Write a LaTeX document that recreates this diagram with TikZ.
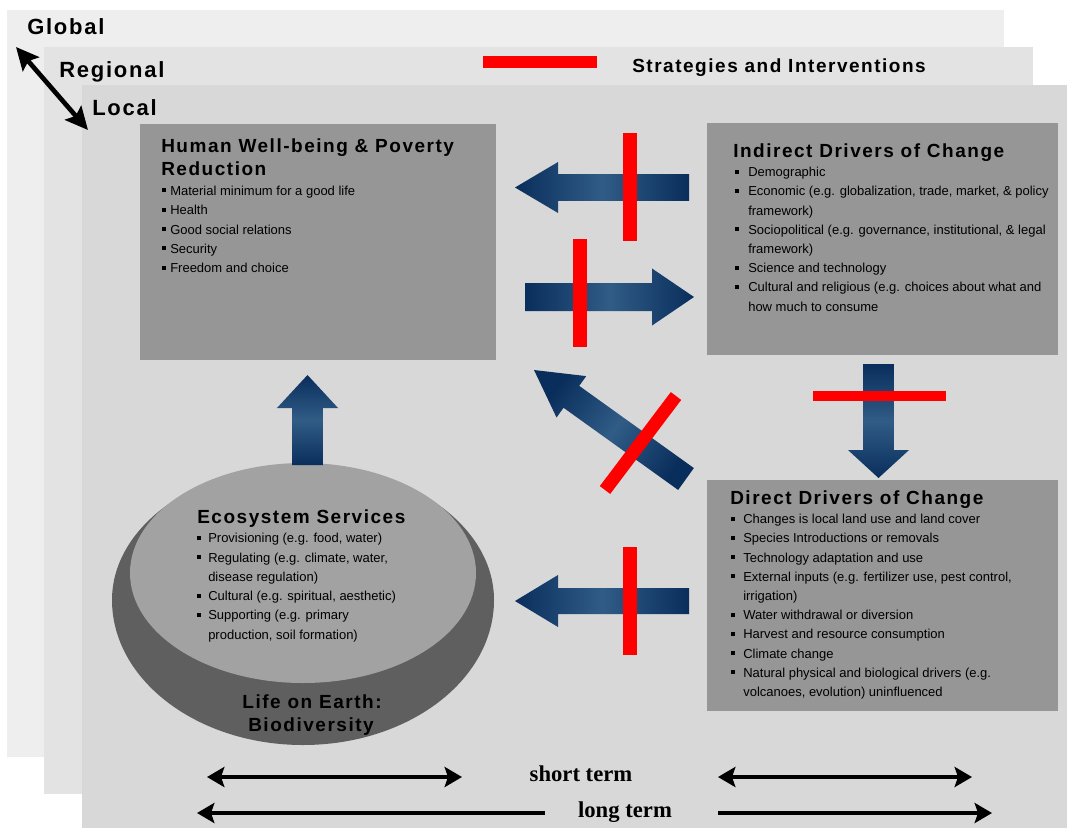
\documentclass[tikz,border=0pt]{standalone}
\usepackage{fontspec}
\setmainfont{Liberation Sans}
\newfontfamily\ttl[LetterSpace=8]{Liberation Sans}
\newfontfamily\tmsr{Liberation Serif}
\usetikzlibrary{calc,arrows.meta}
\definecolor{glob}{HTML}{EEEEEE}
\definecolor{regi}{HTML}{E3E3E3}
\definecolor{loca}{HTML}{D8D8D8}
\definecolor{boxg}{HTML}{969696}
\definecolor{elltop}{HTML}{A2A2A2}
\definecolor{ellside}{HTML}{5F5F5F}
\definecolor{adk}{HTML}{0A2E5C}
\definecolor{alt}{HTML}{305C86}
\definecolor{redbar}{HTML}{FF0000}
\tikzset{
  bt/.style={font=\fontsize{9.75}{12}\selectfont, inner sep=0pt, anchor=base west, text=black},
  ttlnode/.style={font=\ttl\bfseries\fontsize{14.25}{17}\selectfont, inner sep=0pt, anchor=base west},
  lvl/.style={font=\ttl\bfseries\fontsize{16.5}{19}\selectfont, inner sep=0pt, anchor=base west},
  bsq/.style={fill=black, minimum size=3pt, inner sep=0pt},
  redx/.style={draw=redbar, line width=10.5pt},
  arrowshade/.style={left color=adk, right color=adk, middle color=alt},
  termboth/.style={line width=3pt, {Stealth[length=13pt,width=15pt,inset=2.5pt]}-{Stealth[length=13pt,width=15pt,inset=2.5pt]}},
  termone/.style={line width=3pt, -{Stealth[length=13pt,width=15pt,inset=2.5pt]}},
  termtxt/.style={font=\tmsr\bfseries\fontsize{17}{20}\selectfont, inner sep=0pt, anchor=base},
}
% block arrow: #1 tail, #2 tip, #3 half shaft, #4 half head, #5 head length, #6 shading angle
\newcommand\barrow[6]{%
  \coordinate (bat) at (#1);
  \coordinate (bap) at (#2);
  \coordinate (bab) at ($(bap)!#5!(bat)$);
  \path[arrowshade, shading angle=#6]
    ($(bat)!#3!90:(bap)$) -- ($(bat)!#3!-90:(bap)$) -- ($(bab)!#3!-90:(bap)$)
    -- ($(bab)!#4!-90:(bap)$) -- (bap) -- ($(bab)!#4!90:(bap)$)
    -- ($(bab)!#3!90:(bap)$) -- cycle;
}
% bullet list: #1 prefix, #2 bullet x, #3 text x, #4 first baseline, #5 step, #6 list
\newcommand\blist[6]{%
  \foreach \bb/\txt [count=\i] in {#6} {
    \pgfmathsetmacro\yy{#4+#5*(\i-1)}
    \node[bt] (#1\i) at (#3,\yy) {\txt};
    \ifnum\bb=1 \node[bsq] (#1q\i) at (#2,\yy-5) {};\fi
  }%
}
\begin{document}
\begin{tikzpicture}[x=0.75pt,y=-0.75pt]
\useasboundingbox (0,0) rectangle (1067,828);
\fill[white] (0,0) rectangle (1067,828);
% scale layers
\fill[glob] (7,10) rectangle (1004,757);
\fill[regi] (44,47) rectangle (1033,794);
\fill[loca] (82,85) rectangle (1067,828);
\node[lvl] (global) at (27,34) {Global};
\node[lvl] (regional) at (59,77) {Regional};
\node[lvl] (local) at (92,115) {Local};
\coordinate (sc1) at (16,47);
\coordinate (sc2) at (88,130);
\draw[line width=3.5pt, {Stealth[length=17pt,width=16pt,inset=3pt]}-{Stealth[length=17pt,width=16pt,inset=3pt]}] (sc1) -- (sc2);
% legend
\coordinate (lg1) at (483,62);
\coordinate (lg2) at (597,62);
\draw[redx, line width=9pt] (lg1) -- (lg2);
\node[ttlnode] (legend) at (632,72) {Strategies and Interventions};
% boxes
\fill[boxg] (140,124) rectangle (496,360);
\fill[boxg] (707,123) rectangle (1058,355);
\fill[boxg] (707,480) rectangle (1058,711);
% ecosystem disc
\fill[ellside] (112,600) arc[start angle=180, end angle=360, x radius=191, y radius=135]
  arc[start angle=0, end angle=180, x radius=191, y radius=145] -- cycle;
\fill[elltop] (303,573) ellipse [x radius=173, y radius=110];
% titles
\node[ttlnode] (hwt1) at (161,152) {Human Well-being \& Poverty};
\node[ttlnode] (hwt2) at (161,175) {Reduction};
\node[ttlnode] (idt) at (733,157) {Indirect Drivers of Change};
\node[ttlnode] (ddt) at (730,504) {Direct Drivers of Change};
\node[ttlnode] (est) at (197,523) {Ecosystem Services};
\node[ttlnode, anchor=base] (life1) at (312,708) {Life on Earth:};
\node[ttlnode, anchor=base] (life2) at (311,731) {Biodiversity};
% lists
\blist{hw}{164}{170}{195.4}{19.3}{1/{Material minimum for a good life}, 1/{Health}, 1/{Good social relations}, 1/{Security}, 1/{Freedom and choice}}
\blist{id}{737}{748}{176.7}{19.2}{1/{Demographic}, 1/{Economic (e.g. globalization, trade, market, \& policy}, 0/{framework)}, 1/{Sociopolitical (e.g. governance, institutional, \& legal}, 0/{framework)}, 1/{Science and technology}, 1/{Cultural and religious (e.g. choices about what and}, 0/{how much to consume}}
\blist{dd}{732.5}{743}{523.7}{19.2}{1/{Changes is local land use and land cover}, 1/{Species Introductions or removals}, 1/{Technology adaptation and use}, 1/{External inputs (e.g. fertilizer use, pest control,}, 0/{irrigation)}, 1/{Water withdrawal or diversion}, 1/{Harvest and resource consumption}, 1/{Climate change}, 1/{Natural physical and biological drivers (e.g.}, 0/{volcanoes, evolution) uninfluenced}}
\blist{es}{199}{208}{542.7}{19.3}{1/{Provisioning (e.g. food, water)}, 1/{Regulating (e.g. climate, water,}, 0/{disease regulation)}, 1/{Cultural  (e.g. spiritual, aesthetic)}, 1/{Supporting (e.g. primary}, 0/{production, soil formation)}}
% block arrows
\barrow{689,187.5}{515,187.5}{10.1pt}{19.1pt}{32.25pt}{90}
\barrow{525,297}{694,297}{10.5pt}{21.4pt}{31.5pt}{90}
\barrow{686,479}{534,370}{10.1pt}{19.1pt}{34.5pt}{54.4}
\barrow{878.5,364}{878.5,478}{11.6pt}{22.9pt}{21pt}{0}
\barrow{689,601}{515,601}{9.75pt}{19.5pt}{32.25pt}{90}
\barrow{307.5,465}{307.5,375}{11.6pt}{22.9pt}{24.75pt}{0}
% interventions
\draw[redx] (630,133) -- (630,241);
\draw[redx] (580,239) -- (580,347);
\draw[redx, line width=9.75pt] (605,490) -- (676,396);
\draw[redx, line width=7.5pt] (813,396) -- (946,396);
\draw[redx] (630,547) -- (630,655);
% time scales
\coordinate (st1) at (207,777);
\coordinate (st2) at (462,777);
\coordinate (st3) at (718,777);
\coordinate (st4) at (972,777);
\coordinate (lt1) at (545,813);
\coordinate (lt2) at (197,813);
\coordinate (lt3) at (718,813);
\coordinate (lt4) at (992,813);
\draw[termboth] (st1) -- (st2);
\draw[termboth] (st3) -- (st4);
\draw[termone] (lt1) -- (lt2);
\draw[termone] (lt3) -- (lt4);
\node[termtxt] (short) at (581,781) {short term};
\node[termtxt] (long) at (625,817) {long term};
\end{tikzpicture}
\end{document}
